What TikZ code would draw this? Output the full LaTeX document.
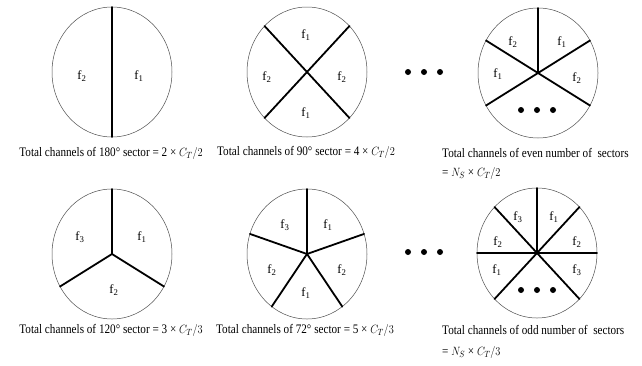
\documentclass[tikz,border=0pt]{standalone}
\usepackage{fontspec}
\setmainfont{Liberation Serif}
\usetikzlibrary{shapes.geometric}
\newcommand{\narrow}[1]{\scalebox{0.86}[1]{#1}}
\tikzset{
  cell/.style={ellipse, draw=black!70, line width=0.5pt, minimum width=120pt, minimum height=130pt, inner sep=0pt},
  div/.style={line width=1.8pt, line cap=round},
  lab/.style={font=\fontsize{12.5}{14}\selectfont, inner sep=0pt},
  captext/.style={font=\fontsize{13}{15}\selectfont, inner sep=0pt},
  dotmark/.style={circle, fill=black, minimum size=6pt, inner sep=0pt}
}
\begin{document}
\begin{tikzpicture}[x=1pt,y=-1pt]
\useasboundingbox (0,0) rectangle (642,365);
% ---------- row 1 ----------
\node[cell] (c1) at (112,72) {};
\node[cell] (c2) at (307,72) {};
\node[cell] (c3) at (538,73) {};
% circle 1
\draw[div] (c1.center) -- ++(0,-65);
\draw[div] (c1.center) -- ++(0,65);
\node[lab] (c1a) at (82,76) {f\textsubscript{2}};
\node[lab] (c1b) at (139,76) {f\textsubscript{1}};
% circle 2
\foreach \a in {45,135,225,315}
  \draw[div] (c2.center) -- ++({60*cos(\a)},{-65*sin(\a)});
\node[lab] (c2a) at (306,35) {f\textsubscript{1}};
\node[lab] (c2b) at (267,77) {f\textsubscript{2}};
\node[lab] (c2c) at (342,77) {f\textsubscript{2}};
\node[lab] (c2d) at (306,113) {f\textsubscript{1}};
% circle 3
\foreach \a in {90,30,150,210,330}
  \draw[div] (c3.center) -- ++({60*cos(\a)},{-65*sin(\a)});
\node[lab] (c3a) at (513,42) {f\textsubscript{2}};
\node[lab] (c3b) at (562,42) {f\textsubscript{1}};
\node[lab] (c3c) at (498,74) {f\textsubscript{1}};
\node[lab] (c3d) at (577,78) {f\textsubscript{2}};
\node[dotmark] (d3a) at (521,110) {};
\node[dotmark] (d3b) at (537,110) {};
\node[dotmark] (d3c) at (553,110) {};
% dots between
\node[dotmark] (e1a) at (408,72) {};
\node[dotmark] (e1b) at (424,72) {};
\node[dotmark] (e1c) at (440,72) {};
% captions
\node[captext] (t1) at (111,153) {\narrow{Total channels of 180° sector = 2 × $C_T/2$}};
\node[captext] (t2) at (306,152) {\narrow{Total channels of 90° sector = 4 × $C_T/2$}};
\node[captext, anchor=west] (t3) at (442,153) {\narrow{Total channels of even number of\ \ sectors}};
\node[captext, anchor=west] (t3b) at (442,173) {\narrow{= $N_S$ × $C_T/2$}};
% ---------- row 2 ----------
\node[cell] (c4) at (112,254) {};
\node[cell] (c5) at (307,254) {};
\node[cell] (c6) at (537,253) {};
% circle 4
\foreach \a in {90,210,330}
  \draw[div] (c4.center) -- ++({60*cos(\a)},{-65*sin(\a)});
\node[lab] (c4a) at (80,237) {f\textsubscript{3}};
\node[lab] (c4b) at (142,237) {f\textsubscript{1}};
\node[lab] (c4c) at (114,290) {f\textsubscript{2}};
% circle 5
\foreach \a in {90,18,-54,-126,162}
  \draw[div] (c5.center) -- ++({60*cos(\a)},{-65*sin(\a)});
\node[lab] (c5a) at (285,225) {f\textsubscript{3}};
\node[lab] (c5b) at (328,225) {f\textsubscript{1}};
\node[lab] (c5c) at (272,270) {f\textsubscript{2}};
\node[lab] (c5d) at (342,270) {f\textsubscript{2}};
\node[lab] (c5e) at (306,293) {f\textsubscript{1}};
% circle 6
\foreach \a in {0,45,90,135,180,225,315}
  \draw[div] (c6.center) -- ++({60*cos(\a)},{-65*sin(\a)});
\node[lab] (c6a) at (518,217) {f\textsubscript{3}};
\node[lab] (c6b) at (554,217) {f\textsubscript{1}};
\node[lab] (c6c) at (498,242) {f\textsubscript{2}};
\node[lab] (c6d) at (577,242) {f\textsubscript{2}};
\node[lab] (c6e) at (497,270) {f\textsubscript{1}};
\node[lab] (c6f) at (577,270) {f\textsubscript{3}};
\node[dotmark] (d6a) at (521,290) {};
\node[dotmark] (d6b) at (537,290) {};
\node[dotmark] (d6c) at (553,290) {};
\node[dotmark] (e2a) at (408,252) {};
\node[dotmark] (e2b) at (424,252) {};
\node[dotmark] (e2c) at (440,252) {};
% captions
\node[captext] (t4) at (111,330) {\narrow{Total channels of 120° sector = 3 × $C_T/3$}};
\node[captext] (t5) at (305,330) {\narrow{Total channels of 72° sector = 5 × $C_T/3$}};
\node[captext, anchor=west] (t6) at (442,330) {\narrow{Total channels of odd number of\ \ sectors}};
\node[captext, anchor=west] (t6b) at (442,352) {\narrow{= $N_S$ × $C_T/3$}};
\end{tikzpicture}
\end{document}
